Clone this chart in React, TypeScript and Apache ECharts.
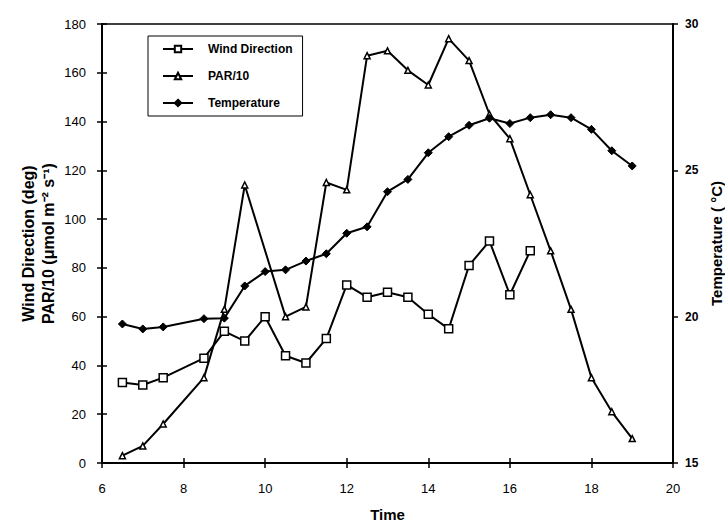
import React, { useEffect, useRef } from "react";
import * as echarts from "echarts";

const windTimes = [6.5, 7, 7.5, 8.5, 9, 9.5, 10, 10.5, 11, 11.5, 12, 12.5, 13, 13.5, 14, 14.5, 15, 15.5, 16, 16.5];
const windDir = [33, 32, 35, 43, 54, 50, 60, 44, 41, 51, 73, 68, 70, 68, 61, 55, 81, 91, 69, 87];

const parTimes = [6.5, 7, 7.5, 8.5, 9, 9.5, 10.5, 11, 11.5, 12, 12.5, 13, 13.5, 14, 14.5, 15, 15.5, 16, 16.5, 17, 17.5, 18, 18.5, 19];
const par = [3, 7, 16, 35, 63, 114, 60, 64, 115, 112, 167, 169, 161, 155, 174, 165, 143, 133, 110, 87, 63, 35, 21, 10];

const tempTimes = [6.5, 7, 7.5, 8.5, 9, 9.5, 10, 10.5, 11, 11.5, 12, 12.5, 13, 13.5, 14, 14.5, 15, 15.5, 16, 16.5, 17, 17.5, 18, 18.5, 19];
const temp = [19.75, 19.58, 19.65, 19.93, 19.95, 21.05, 21.54, 21.6, 21.9, 22.15, 22.85, 23.07, 24.27, 24.69, 25.6, 26.15, 26.54, 26.78, 26.6, 26.8, 26.9, 26.8, 26.4, 25.67, 25.15];

const zip = (xs: number[], ys: number[]) => xs.map((x, i) => [x, ys[i]]);

const FONT = "'Liberation Sans', Arial, sans-serif";

export default function App() {
  const ref = useRef<HTMLDivElement>(null);
  useEffect(() => {
    if (!ref.current) return;
    const chart = echarts.init(ref.current, null, { renderer: "svg" });
    const lineStyle = { color: "#000", width: 2 };
    chart.setOption({
      animation: false,
      backgroundColor: "#fff",
      textStyle: { fontFamily: FONT, color: "#000" },
      grid: {
        left: 102,
        right: 52,
        top: 24,
        bottom: 60,
        show: true,
        borderColor: "#000",
        borderWidth: 1.5,
        containLabel: false,
        outerBoundsMode: "none",
      },
      legend: {
        orient: "vertical",
        left: 148,
        top: 36,
        width: 158,
        padding: [7, 10, 7, 14],
        itemGap: 15,
        itemWidth: 30,
        itemHeight: 8,
        borderColor: "#000",
        borderWidth: 1,
        textStyle: { fontFamily: FONT, fontWeight: "bold", fontSize: 12, color: "#000", padding: [0, 0, 0, 10] },
        data: ["Wind Direction", "PAR/10", "Temperature"],
      },
      xAxis: [
        {
          type: "value",
          min: 6,
          max: 20,
          interval: 2,
          position: "bottom",
          name: "Time",
          nameLocation: "middle",
          nameGap: 44,
          nameMoveOverlap: false,
          nameTextStyle: { fontFamily: FONT, fontWeight: "bold", fontSize: 15, color: "#000" },
          axisLine: { show: true, lineStyle: { color: "#000", width: 2 } },
          axisTick: { show: true, inside: false, length: 5, lineStyle: { color: "#000", width: 1.5 } },
          axisLabel: { fontFamily: FONT, fontSize: 13, color: "#000", margin: 19 },
          splitLine: { show: false },
        },
        {
          type: "value",
          min: 6,
          max: 20,
          interval: 2,
          position: "bottom",
          axisLine: { show: false },
          axisTick: { show: true, inside: true, length: 5, lineStyle: { color: "#000", width: 1.5 } },
          axisLabel: { show: false },
          splitLine: { show: false },
        },
      ],
      yAxis: [
        {
          type: "value",
          min: 0,
          max: 180,
          interval: 20,
          position: "left",
          name: "Wind Direction (deg)\nPAR/10 (μmol m⁻² s⁻¹)",
          nameLocation: "middle",
          nameRotate: 90,
          nameGap: 44,
          nameMoveOverlap: false,
          nameTextStyle: { fontFamily: FONT, fontWeight: "bold", fontSize: 16, color: "#000", lineHeight: 20 },
          axisLine: { show: true, lineStyle: { color: "#000", width: 2 } },
          axisTick: { show: true, inside: false, length: 5, lineStyle: { color: "#000", width: 1.5 } },
          axisLabel: { fontFamily: FONT, fontSize: 13, color: "#000", margin: 16 },
          splitLine: { show: false },
        },
        {
          type: "value",
          min: 15,
          max: 30,
          interval: 5,
          position: "right",
          name: "Temperature ( °C)",
          nameLocation: "middle",
          nameRotate: 90,
          nameGap: 36,
          nameMoveOverlap: false,
          nameTextStyle: { fontFamily: FONT, fontWeight: "bold", fontSize: 15, color: "#000" },
          axisLine: { show: true, lineStyle: { color: "#000", width: 2 } },
          axisTick: { show: true, inside: false, length: 5, lineStyle: { color: "#000", width: 1.5 } },
          axisLabel: { fontFamily: FONT, fontSize: 12, fontWeight: "bold", color: "#000", margin: 12 },
          splitLine: { show: false },
        },
        {
          type: "value",
          min: 0,
          max: 180,
          interval: 20,
          position: "left",
          axisLine: { show: false },
          axisTick: { show: true, inside: true, length: 5, lineStyle: { color: "#000", width: 1.5 } },
          axisLabel: { show: false },
          splitLine: { show: false },
        },
      ],
      series: [
        {
          name: "Wind Direction",
          type: "line",
          xAxisIndex: 0,
          yAxisIndex: 0,
          data: zip(windTimes, windDir),
          symbol: "rect",
          symbolSize: 8,
          lineStyle,
          itemStyle: { color: "#fff", borderColor: "#000", borderWidth: 1.5 },
          z: 3,
        },
        {
          name: "PAR/10",
          type: "line",
          xAxisIndex: 0,
          yAxisIndex: 0,
          data: zip(parTimes, par),
          symbol: "triangle",
          symbolSize: 6,
          lineStyle,
          itemStyle: { color: "#fff", borderColor: "#000", borderWidth: 1.5 },
          z: 3,
        },
        {
          name: "Temperature",
          type: "line",
          xAxisIndex: 0,
          yAxisIndex: 1,
          data: zip(tempTimes, temp),
          symbol: "diamond",
          symbolSize: 8,
          lineStyle,
          itemStyle: { color: "#000", borderColor: "#000", borderWidth: 1 },
          z: 3,
        },
      ],
    });
    return () => chart.dispose();
  }, []);
  return <div ref={ref} style={{ width: 725, height: 523, position: "absolute", left: 0, top: 0 }} />;
}
